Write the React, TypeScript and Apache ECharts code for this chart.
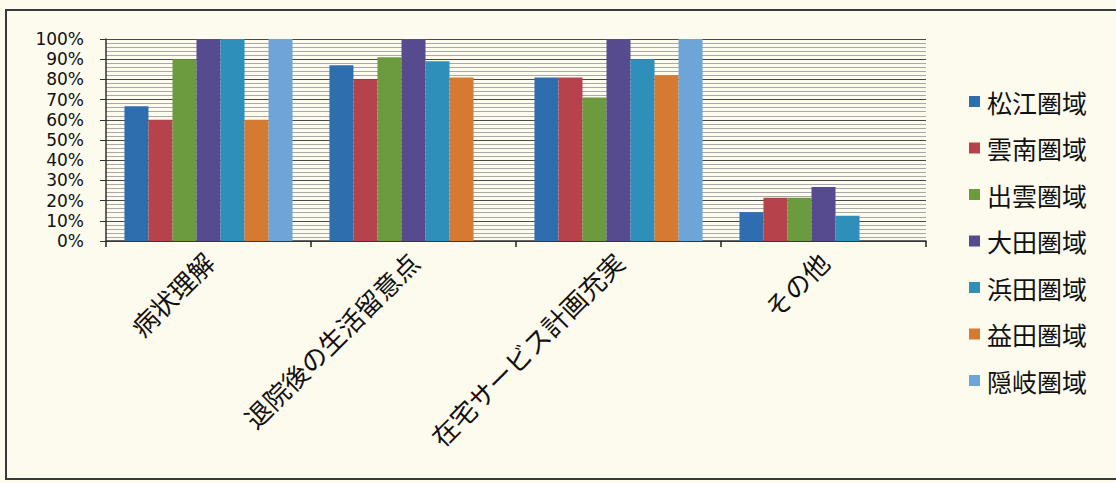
import React, { useEffect, useRef } from "react";
import * as echarts from "echarts";

// Survey categories (x axis) and regional series
const categories = ["病状理解", "退院後の生活留意点", "在宅サービス計画充実", "その他"];
const regions = ["松江圏域", "雲南圏域", "出雲圏域", "大田圏域", "浜田圏域", "益田圏域", "隠岐圏域"];

// Percentages per category, one array per region
const matsue = [66.7, 87, 81, 14.3];
const unnan = [60, 80, 81, 21.4];
const izumo = [90, 91, 71, 21.4];
const oda = [100, 100, 100, 26.7];
const hamada = [100, 89, 90, 12.5];
const masuda = [60, 81, 82, null];
const oki = [100, null, 100, null];

const regionValues = [matsue, unnan, izumo, oda, hamada, masuda, oki];
const regionColors = ["#2f6eae", "#b6424c", "#6b9a3f", "#574b8f", "#2f8fbb", "#d77a31", "#6ea5d9"];

// Y axis: 0% .. 100% every 10%, minor lines every 2%
const yMin = 0;
const yMax = 100;
const yStep = 10;

const BG = "#fdfbee";

export default function App() {
  const ref = useRef<HTMLDivElement>(null);

  useEffect(() => {
    if (!ref.current) return;
    const chart = echarts.init(ref.current, undefined, { renderer: "svg" });

    const series = regions.map((name, i) => ({
      name,
      type: "bar",
      data: regionValues[i],
      barGap: "0%",
      barCategoryGap: "18%",
      itemStyle: { color: regionColors[i] },
    }));

    chart.setOption({
      animation: false,
      backgroundColor: BG,
      textStyle: { fontFamily: "'Noto Sans CJK JP', sans-serif" },
      grid: { left: 106, right: 190, top: 39, bottom: 242, containLabel: false },
      legend: {
        orient: "vertical",
        left: 964,
        top: 84,
        icon: "rect",
        itemWidth: 11,
        itemHeight: 11,
        itemGap: 21.5,
        textStyle: {
          fontSize: 25,
          lineHeight: 25,
          color: "#111",
          fontFamily: "'Noto Sans CJK JP', sans-serif",
          padding: [0, 0, 0, 2],
        },
        data: regions,
      },
      xAxis: {
        type: "category",
        data: categories,
        boundaryGap: true,
        axisLine: { show: true, lineStyle: { color: "#333", width: 1.5 } },
        axisTick: { show: true, length: 6, lineStyle: { color: "#222", width: 1.5 } },
        axisLabel: {
          rotate: 45,
          margin: 16,
          fontSize: 26,
          color: "#111",
          fontFamily: "'Noto Sans CJK JP', sans-serif",
          interval: 0,
        },
        splitLine: { show: false },
      },
      yAxis: {
        type: "value",
        min: yMin,
        max: yMax,
        interval: yStep,
        axisLine: { show: true, lineStyle: { color: "#333", width: 1.5 } },
        axisTick: { show: true, length: 6, lineStyle: { color: "#333" } },
        axisLabel: {
          formatter: "{value}%",
          fontSize: 17,
          lineHeight: 17,
          margin: 22,
          color: "#111",
          fontFamily: "'DejaVu Sans', sans-serif",
        },
        splitLine: { show: true, lineStyle: { color: "#4a4a4a", width: 1.2 } },
        minorTick: { show: false, splitNumber: 5 },
        minorSplitLine: { show: true, lineStyle: { color: "#a8a8a8", width: 1 } },
      },
      graphic: [
        {
          type: "rect",
          silent: true,
          z: -1,
          shape: { x: 6, y: 10, width: 1200, height: 469 },
          style: { fill: "none", stroke: "#3a3a3a", lineWidth: 2 },
        },
      ],
      series,
    });

    return () => chart.dispose();
  }, []);

  return (
    <div
      ref={ref}
      style={{ position: "fixed", left: 0, top: 0, width: 1116, height: 483 }}
    />
  );
}
